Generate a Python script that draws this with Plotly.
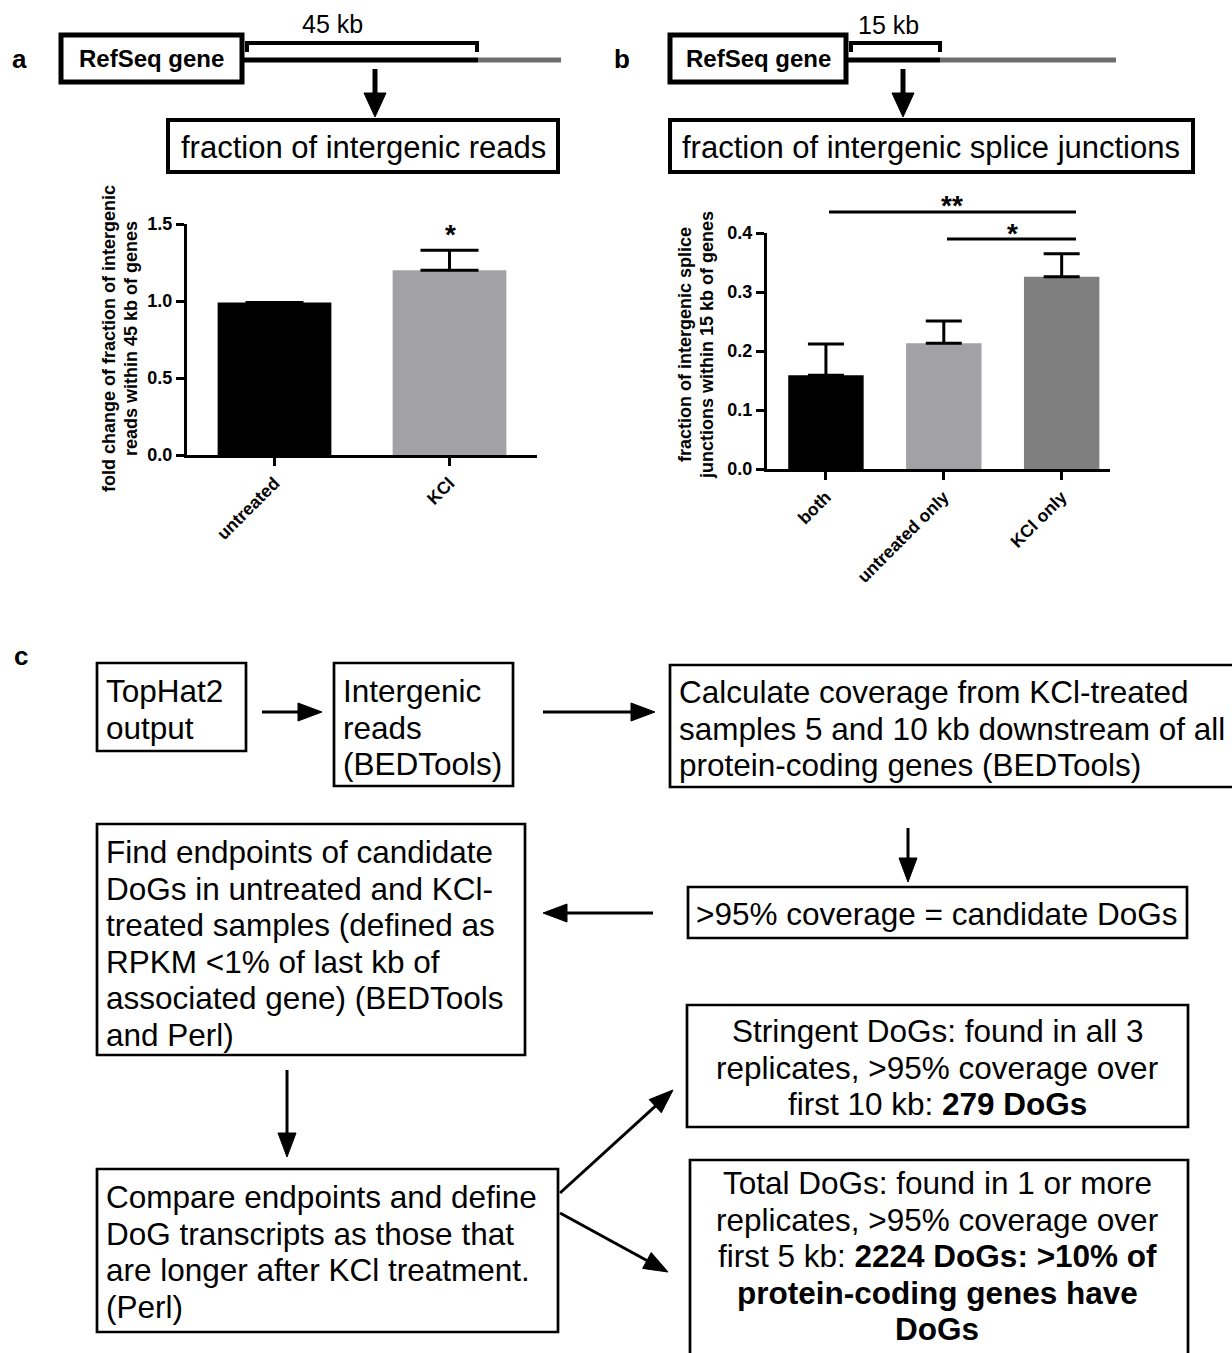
import math
import plotly.graph_objects as go

W, H = 1232, 1353

# ---------------- data ----------------
a_categories = ["untreated", "KCl"]
a_values = [0.99, 1.20]
a_err = [0.0, 0.13]
a_colors = ["#000000", "#a2a2a6"]

b_categories = ["both", "untreated only", "KCl only"]
b_values = [0.159, 0.213, 0.326]
b_err = [0.053, 0.038, 0.039]
b_colors = ["#000000", "#a2a2a6", "#7f7f7f"]

a_ytickvals = [0.0, 0.5, 1.0, 1.5]
b_ytickvals = [0.0, 0.1, 0.2, 0.3, 0.4]

FONT = "Liberation Sans, Arial, Helvetica, sans-serif"
FS = 31.5  # flowchart font size
LS = 36.5  # line spacing


def X(px):
    return px / W


def Y(py):
    return 1 - py / H


fig = go.Figure()

fig.add_trace(go.Bar(
    x=a_categories, y=a_values, marker=dict(color=a_colors, line=dict(width=0)),
    width=0.65,
    error_y=dict(type="data", array=a_err, arrayminus=[0] * len(a_err), symmetric=False,
                 color="black", thickness=3, width=29),
    xaxis="x", yaxis="y", showlegend=False, hoverinfo="skip"))

fig.add_trace(go.Bar(
    x=b_categories, y=b_values, marker=dict(color=b_colors, line=dict(width=0)),
    width=0.64,
    error_y=dict(type="data", array=b_err, arrayminus=[0] * len(b_err), symmetric=False,
                 color="black", thickness=3, width=18),
    xaxis="x2", yaxis="y2", showlegend=False, hoverinfo="skip"))

axis_common = dict(showline=True, linewidth=3, linecolor="black", ticks="outside",
                   ticklen=8, tickwidth=3, tickcolor="black", showgrid=False,
                   zeroline=False, automargin=False)
xtickfont = dict(family=FONT, size=17.5, color="black", weight="bold")
ytickfont = dict(family=FONT, size=18, color="black", weight="bold")

fig.update_layout(
    width=W, height=H, autosize=False,
    margin=dict(l=0, r=0, t=0, b=0, pad=0, autoexpand=False),
    paper_bgcolor="white", plot_bgcolor="white",
    xaxis=dict(domain=[X(187), X(537)], anchor="y", range=[-0.5, 1.5], tickangle=-45,
               tickfont=xtickfont, **axis_common),
    yaxis=dict(domain=[Y(455), Y(224)], anchor="x", range=[0, 1.5], tickvals=a_ytickvals,
               tickformat=".1f", tickfont=ytickfont, **axis_common),
    xaxis2=dict(domain=[X(767), X(1110)], anchor="y2", range=[-0.5, 2.41], tickangle=-45,
                tickfont=xtickfont, **axis_common),
    yaxis2=dict(domain=[Y(469), Y(233)], anchor="x2", range=[0, 0.4], tickvals=b_ytickvals,
                tickformat=".1f", tickfont=ytickfont, **axis_common),
)

shapes = []
annotations = []


def rect(x0, y0, x1, y1, lw=2.7):
    shapes.append(dict(type="rect", xref="paper", yref="paper", x0=X(x0), x1=X(x1),
                       y0=Y(y1), y1=Y(y0), line=dict(color="black", width=lw),
                       fillcolor="rgba(0,0,0,0)"))


def line(x0, y0, x1, y1, lw=3, color="black"):
    shapes.append(dict(type="line", xref="paper", yref="paper", x0=X(x0), y0=Y(y0),
                       x1=X(x1), y1=Y(y1), line=dict(color=color, width=lw)))


def arrow(x0, y0, x1, y1, lw=3, head=24, hw=9):
    dx, dy = x1 - x0, y1 - y0
    L = math.hypot(dx, dy)
    ux, uy = dx / L, dy / L
    bx, by = x1 - ux * head, y1 - uy * head
    line(x0, y0, bx + ux * 2, by + uy * 2, lw)
    px, py = -uy, ux
    p1 = (bx + px * hw, by + py * hw)
    p2 = (bx - px * hw, by - py * hw)
    path = "M {} {} L {} {} L {} {} Z".format(X(x1), Y(y1), X(p1[0]), Y(p1[1]), X(p2[0]), Y(p2[1]))
    shapes.append(dict(type="path", xref="paper", yref="paper", path=path,
                       fillcolor="black", line=dict(color="black", width=1)))


def text(x, y, s, size=FS, xanchor="left", bold=False, angle=0):
    annotations.append(dict(xref="paper", yref="paper", x=X(x), y=Y(y), text=s, showarrow=False,
                            xanchor=xanchor, yanchor="middle", align=xanchor if xanchor != "center" else "center",
                            textangle=angle,
                            font=dict(family=FONT, size=size, color="black",
                                      weight="bold" if bold else "normal")))


def lines(x, y_first, items, xanchor="left", size=FS):
    for i, s in enumerate(items):
        text(x, y_first + i * LS, s, size=size, xanchor=xanchor)


# ---------------- panel labels ----------------
text(10, 59, "a", size=26, bold=True)
text(612, 59, "b", size=26, bold=True)
text(12, 656, "c", size=26, bold=True)

# ---------------- panel a schematic ----------------
line(240, 60, 478, 60, lw=5)
line(478, 60, 561, 60, lw=5, color="#6e6e6e")
rect(61, 35, 242, 82, lw=5)
text(151, 59, "RefSeq gene", size=24, bold=True, xanchor="center")
line(247, 43, 477, 43, lw=4)
line(247, 41, 247, 52, lw=4)
line(477, 41, 477, 52, lw=4)
text(332, 24, "45 kb", size=25, xanchor="center")
arrow(375, 69, 375, 117, lw=5, head=24, hw=11)
rect(168, 120, 558, 172, lw=4)
text(363, 147, "fraction of intergenic reads", size=31, xanchor="center")

# ---------------- panel b schematic ----------------
line(845, 60, 940, 60, lw=5)
line(940, 60, 1116, 60, lw=5, color="#6e6e6e")
rect(670, 35, 846, 82, lw=5)
text(758, 59, "RefSeq gene", size=24, bold=True, xanchor="center")
line(851, 43, 940, 43, lw=4)
line(851, 41, 851, 52, lw=4)
line(940, 41, 940, 52, lw=4)
text(888, 25, "15 kb", size=25, xanchor="center")
arrow(903, 69, 903, 117, lw=5, head=24, hw=11)
rect(670, 120, 1193, 172, lw=4)
text(931, 147, "fraction of intergenic splice junctions", size=31, xanchor="center")

# ---------------- bar chart extras ----------------
text(109, 339, "fold change of fraction of intergenic", size=18, bold=True, xanchor="center", angle=-90)
text(131, 339, "reads within 45 kb of genes", size=18, bold=True, xanchor="center", angle=-90)
text(450, 234, "*", size=28, bold=True, xanchor="center")

text(685, 345, "fraction of intergenic splice", size=18, bold=True, xanchor="center", angle=-90)
text(707, 345, "junctions within 15 kb of genes", size=18, bold=True, xanchor="center", angle=-90)
line(829, 212, 1076, 212, lw=3)
text(952, 206, "**", size=28, bold=True, xanchor="center")
line(947, 239, 1076, 239, lw=3)
text(1012, 233, "*", size=28, bold=True, xanchor="center")

# ---------------- panel c flowchart ----------------
rect(97, 663, 246, 751)
lines(104, 691, ["TopHat2", "output"])
arrow(262, 712, 322, 712)

rect(334, 663, 513, 786)
lines(341, 691, ["Intergenic", "reads", "(BEDTools)"])
arrow(543, 712, 655, 712)

rect(670, 665, 1240, 787)
lines(677, 692, ["Calculate coverage from KCl-treated",
                 "samples 5 and 10 kb downstream of all",
                 "protein-coding genes (BEDTools)"])
arrow(908, 828, 908, 882)

rect(688, 887, 1187, 938)
text(937, 914, "&gt;95% coverage = candidate DoGs", xanchor="center")
arrow(653, 913, 543, 913)

rect(97, 824, 525, 1055)
lines(104, 852, ["Find endpoints of candidate",
                 "DoGs in untreated and KCl-",
                 "treated samples (defined as",
                 "RPKM &lt;1% of last kb of",
                 "associated gene) (BEDTools",
                 "and Perl)"])
arrow(287, 1070, 287, 1157)

rect(97, 1169, 558, 1332)
lines(104, 1197, ["Compare endpoints and define",
                  "DoG transcripts as those that",
                  "are longer after KCl treatment.",
                  "(Perl)"])
arrow(560, 1193, 673, 1090)
arrow(560, 1213, 668, 1272)

rect(687, 1005, 1188, 1127)
lines(937, 1031, ["Stringent DoGs: found in all 3",
                  "replicates, &gt;95% coverage over",
                  "first 10 kb: <b>279 DoGs</b>"], xanchor="center")

rect(690, 1160, 1188, 1365)
lines(937, 1183, ["Total DoGs: found in 1 or more",
                  "replicates, &gt;95% coverage over",
                  "first 5 kb: <b>2224 DoGs: &gt;10% of</b>",
                  "<b>protein-coding genes have</b>",
                  "<b>DoGs</b>"], xanchor="center")

fig.update_layout(shapes=shapes, annotations=annotations)

post = ("document.documentElement.style.margin='0';document.body.style.margin='0';"
        "document.documentElement.style.overflow='hidden';document.body.style.overflow='hidden';"
        "var g=document.getElementById('{plot_id}');g.style.position='absolute';"
        "g.style.left='0px';g.style.top='0px';")

fig.write_html("out.html", config={"displayModeBar": False}, post_script=post)
